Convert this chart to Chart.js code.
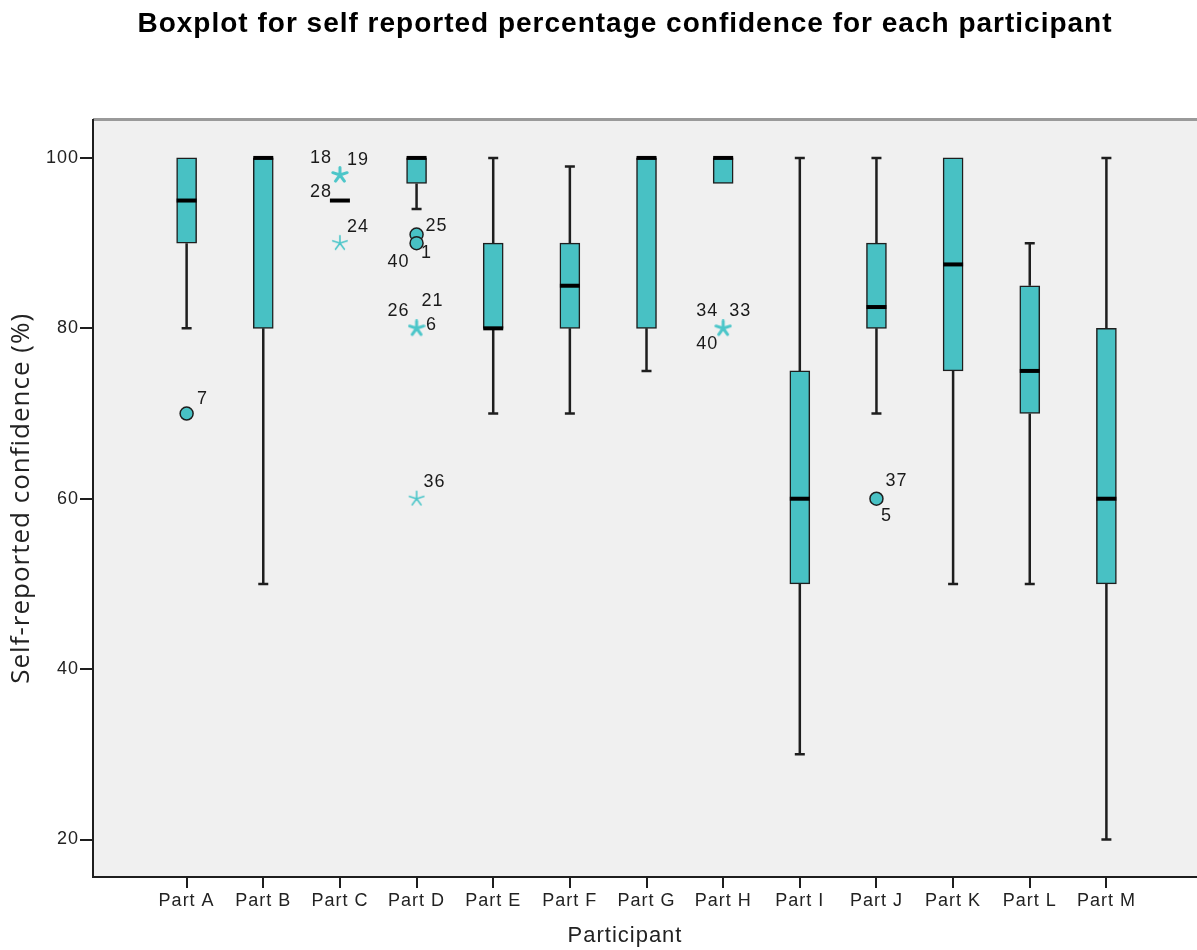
<!DOCTYPE html>
<html>
<head>
<meta charset="utf-8">
<title>Boxplot for self reported percentage confidence</title>
<script src="https://cdn.jsdelivr.net/npm/chart.js@4.4.1/dist/chart.umd.min.js"></script>
<style>
    html, body { margin: 0; padding: 0; background: #fff; overflow: hidden; }
    #wrap { width: 1250px; height: 950px; }
</style>
</head>
<body>
<div id="wrap"><canvas id="chart"></canvas></div>
<script>
// Values
const participants = ['Part A', 'Part B', 'Part C', 'Part D', 'Part E', 'Part F', 'Part G',
                      'Part H', 'Part I', 'Part J', 'Part K', 'Part L', 'Part M'];
const whiskerLow  = [80, 50, 95, 94, 70, 70, 75, 97, 30, 70, 50, 50, 20];
const quartile1   = [90, 80, 95, 97, 80, 80, 80, 97, 50, 80, 75, 70, 50];
const medians     = [95, 100, 95, 100, 80, 85, 100, 100, 60, 82.5, 87.5, 75, 60];
const quartile3   = [100, 100, 95, 100, 90, 90, 100, 100, 75, 90, 100, 85, 80];
const whiskerHigh = [100, 100, 95, 100, 100, 99, 100, 100, 100, 100, 100, 90, 100];
const yTicks = [20, 40, 60, 80, 100];

// outliers (circles) and extremes (stars): participant index, value, case numbers
const outlierGroup = [0, 3, 3, 9];
const outlierValue = [70, 91, 90, 60];
const outlierCases = [['7'], ['25'], ['1', '40'], ['37', '5']];
const extremeGroup = [2, 2, 3, 3, 7];
const extremeValue = [98, 90, 80, 60, 80];
const extremeCases = [['18', '19'], ['24'], ['6', '21', '26'], ['36'], ['33', '34', '40']];
// case label sitting on the flat box of Part C
const flatGroup = [2];
const flatValue = [95];
const flatCases = [['28']];

// where each case number sits next to its marker (px)
const outlierLabelPos = [[[16, -14]], [[20, -9]], [[10, 10], [-18, 19]], [[20, -18], [10, 17]]];
const extremeLabelPos = [[[-19, -17], [18, -15]], [[18, -16]], [[15, -3], [16, -27], [-18, -17]],
                         [[18, -17]], [[17, -17], [-16, -17], [-16, 16]]];
const flatLabelPos = [[[-19, -9]]];

const TEAL = '#48C1C4';
const STAR = '#4CC6C9';
const INK = '#1e1e1e';
const BOX_W = 20;
const CAP_W = 10;
const FONT = '"Liberation Sans", Arial, sans-serif';

// SPSS style five armed asterisk; stacked cases look heavier
function makeStar(lineWidth) {
    const c = document.createElement('canvas');
    c.width = 18;
    c.height = 18;
    const g = c.getContext('2d');
    g.strokeStyle = STAR;
    g.lineWidth = lineWidth;
    g.lineCap = 'round';
    g.beginPath();
    for (let k = 0; k < 5; k++) {
        const a = -Math.PI / 2 + k * 2 * Math.PI / 5;
        g.moveTo(9, 9);
        g.lineTo(9 + 7.5 * Math.cos(a), 9 + 7.5 * Math.sin(a));
    }
    g.stroke();
    return c;
}
const starBold = makeStar(3);
const starThin = makeStar(1.6);

const framePlugin = {
    id: 'frame',
    beforeDraw(chart) {
        const { ctx, chartArea: a } = chart;
        ctx.letterSpacing = '1px';
        ctx.save();
        ctx.fillStyle = '#F0F0F0';
        ctx.fillRect(a.left, a.top, a.right - a.left, a.bottom - a.top);
        ctx.strokeStyle = '#9a9a9a';
        ctx.lineWidth = 3;
        ctx.beginPath();
        ctx.moveTo(a.left, a.top);
        ctx.lineTo(a.right, a.top);
        ctx.stroke();
        ctx.restore();
    }
};

const boxPlugin = {
    id: 'boxParts',
    beforeDatasetsDraw(chart) {
        // whiskers sit behind the boxes
        const { ctx, scales: { x, y } } = chart;
        ctx.save();
        ctx.strokeStyle = INK;
        ctx.lineWidth = 2.5;
        participants.forEach((p, i) => {
            const px = x.getPixelForValue(i);
            [[whiskerLow[i], quartile1[i]], [quartile3[i], whiskerHigh[i]]].forEach(([lo, hi], k) => {
                if (lo === hi) return;
                const capY = y.getPixelForValue(k === 0 ? lo : hi);
                ctx.beginPath();
                ctx.moveTo(px, y.getPixelForValue(lo));
                ctx.lineTo(px, y.getPixelForValue(hi));
                ctx.moveTo(px - CAP_W / 2, capY);
                ctx.lineTo(px + CAP_W / 2, capY);
                ctx.stroke();
            });
        });
        ctx.restore();
    },
    afterDatasetDraw(chart, args) {
        if (args.index !== 0) return;
        const { ctx, scales: { x, y } } = chart;
        ctx.save();
        ctx.strokeStyle = '#000';
        ctx.lineWidth = 4;
        medians.forEach((m, i) => {
            const px = x.getPixelForValue(i);
            const py = y.getPixelForValue(m);
            ctx.beginPath();
            ctx.moveTo(px - BOX_W / 2, py);
            ctx.lineTo(px + BOX_W / 2, py);
            ctx.stroke();
        });
        ctx.restore();
    },
    afterDatasetsDraw(chart) {
        const { ctx, scales: { x, y } } = chart;
        ctx.save();
        ctx.font = '18px ' + FONT;
        ctx.fillStyle = '#1a1a1a';
        ctx.textAlign = 'center';
        ctx.textBaseline = 'middle';
        const put = (groups, values, cases, offsets) => {
            groups.forEach((g, j) => {
                const px = x.getPixelForValue(g);
                const py = y.getPixelForValue(values[j]);
                cases[j].forEach((c, k) => {
                    const [dx, dy] = offsets[j][k];
                    ctx.fillText(c, px + dx, py + dy);
                });
            });
        };
        put(outlierGroup, outlierValue, outlierCases, outlierLabelPos);
        put(extremeGroup, extremeValue, extremeCases, extremeLabelPos);
        put(flatGroup, flatValue, flatCases, flatLabelPos);
        ctx.restore();
    }
};

new Chart(document.getElementById('chart'), {
    type: 'bar',
    data: {
        datasets: [
            {
                label: 'IQR',
                data: participants.map((p, i) => ({ x: i, y: [quartile1[i], quartile3[i]] })),
                backgroundColor: TEAL,
                borderColor: INK,
                borderWidth: 1.5,
                borderSkipped: false,
                barThickness: BOX_W,
                order: 2
            },
            {
                type: 'scatter',
                label: 'Outliers',
                data: outlierGroup.map((g, j) => ({ x: g, y: outlierValue[j] })),
                pointStyle: 'circle',
                pointRadius: 6.5,
                backgroundColor: TEAL,
                borderColor: INK,
                borderWidth: 1.5,
                order: 1
            },
            {
                type: 'scatter',
                label: 'Extremes',
                data: extremeGroup.map((g, j) => ({ x: g, y: extremeValue[j] })),
                pointStyle: extremeCases.map(c => (c.length > 1 ? starBold : starThin)),
                pointRadius: 9,
                order: 0
            }
        ]
    },
    options: {
        responsive: true,
        maintainAspectRatio: false,
        animation: false,
        layout: { padding: 0 },
        plugins: {
            legend: { display: false },
            tooltip: { enabled: false },
            title: {
                display: true,
                text: 'Boxplot for self reported percentage confidence for each participant',
                color: '#000',
                font: { family: FONT, size: 28, weight: 'bold', lineHeight: 1.2 },
                padding: { top: 7, bottom: 79 }
            },
            subtitle: {
                display: true,
                position: 'bottom',
                text: 'Participant',
                color: '#222',
                font: { family: FONT, size: 22, lineHeight: 1.2 },
                padding: { top: 0, bottom: 1 }
            }
        },
        scales: {
            x: {
                type: 'linear',
                min: -1.2214,
                max: 13.743,
                offset: false,
                grid: { display: true, drawOnChartArea: false, drawTicks: true, tickLength: 11, color: INK, lineWidth: 2, offset: false },
                border: { display: true, color: INK, width: 2 },
                ticks: {
                    color: '#222',
                    font: { family: FONT, size: 18 },
                    padding: 2,
                    maxRotation: 0,
                    autoSkip: false,
                    callback: (v) => participants[v]
                },
                afterBuildTicks: (scale) => {
                    scale.ticks = participants.map((p, i) => ({ value: i }));
                },
                afterFit: (scale) => {
                    scale.height = 45.6;
                    scale.paddingLeft = 0;
                    scale.paddingRight = 0;
                }
            },
            y: {
                min: 15.6,
                max: 104.5,
                grid: { display: true, drawOnChartArea: false, drawTicks: true, tickLength: 13, color: INK, lineWidth: 2 },
                border: { display: true, color: INK, width: 2 },
                ticks: {
                    color: '#222',
                    font: { family: FONT, size: 18 },
                    padding: 1
                },
                afterBuildTicks: (scale) => {
                    scale.ticks = yTicks.map(v => ({ value: v }));
                },
                afterFit: (scale) => { scale.width = 93; },
                title: {
                    display: true,
                    text: 'Self-reported confidence (%)',
                    color: '#222',
                    font: { family: '"Open Sans", sans-serif', size: 26, lineHeight: 1.2 },
                    padding: { top: 6, bottom: 0 }
                }
            }
        }
    },
    plugins: [framePlugin, boxPlugin]
});
</script>
</body>
</html>
